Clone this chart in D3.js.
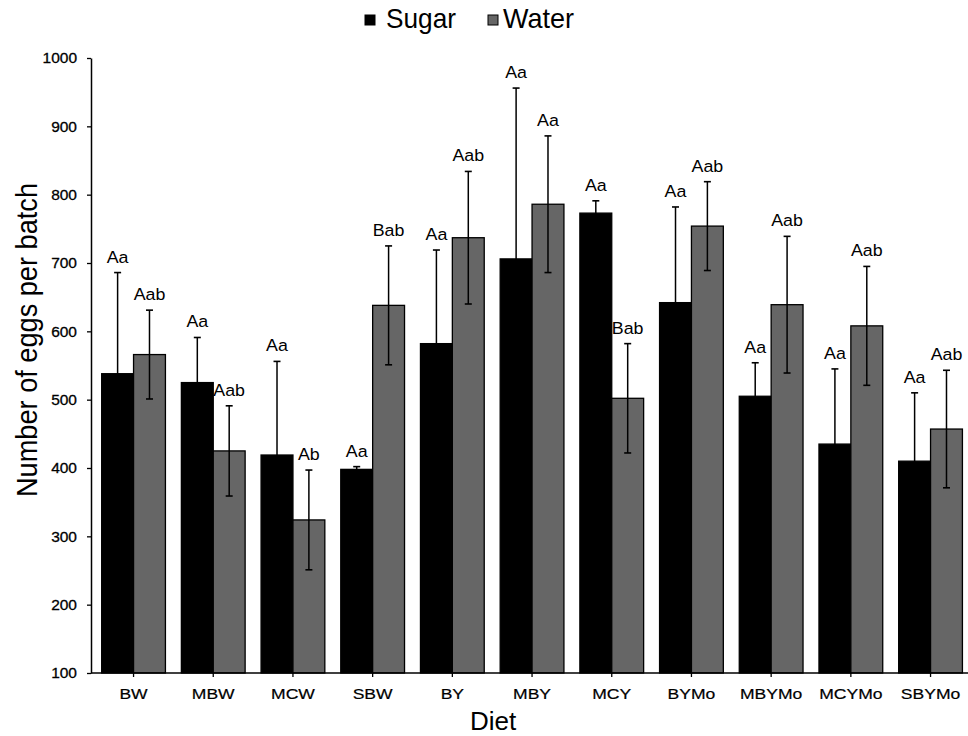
<!DOCTYPE html>
<html>
<head>
<meta charset="utf-8">
<script src="https://cdn.jsdelivr.net/npm/d3@7"></script>
<style>
  html, body { margin: 0; padding: 0; background: #fff; }
  svg { display: block; font-family: "Liberation Sans", Arial, Helvetica, sans-serif; }
</style>
</head>
<body>
<svg id="chart" width="968" height="736"></svg>
<script>
// ---- data ----
const diets = ["BW", "MBW", "MCW", "SBW", "BY", "MBY", "MCY", "BYMo", "MBYMo", "MCYMo", "SBYMo"];
const seriesNames = ["Sugar", "Water"];
const sugarMeans = [538, 525, 419, 398, 582, 706, 773, 642, 505, 435, 410];
const sugarErr   = [148, 66, 137, 4, 137, 250, 18, 140, 49, 110, 100];
const waterMeans = [566, 425, 324, 638, 737, 786, 502, 754, 639, 608, 457];
const waterErr   = [65, 66, 73, 87, 97, 100, 80, 65, 100, 87, 86];
const sugarLetters = ["Aa", "Aa", "Aa", "Aa", "Aa", "Aa", "Aa", "Aa", "Aa", "Aa", "Aa"];
const waterLetters = ["Aab", "Aab", "Ab", "Bab", "Aab", "Aa", "Bab", "Aab", "Aab", "Aab", "Aab"];
const yTicks = [100, 200, 300, 400, 500, 600, 700, 800, 900, 1000];

// ---- layout ----
const svg = d3.select("#chart");
const axisX = 91, yTop = 58, yBottom = 673;
const colors = { Sugar: "#000000", Water: "#666666" };

const y = d3.scaleLinear().domain([100, 1000]).range([yBottom, yTop]);
const x0 = d3.scaleBand().domain(diets).range([93.7, 970.4]).paddingInner(0.2).paddingOuter(0.1);
const x1 = d3.scaleBand().domain(seriesNames).range([0, x0.bandwidth()]);

const rows = diets.map((d, i) => ({
  diet: d,
  vals: [
    { s: "Sugar", v: sugarMeans[i], e: sugarErr[i], l: sugarLetters[i] },
    { s: "Water", v: waterMeans[i], e: waterErr[i], l: waterLetters[i] }
  ]
}));

const g = svg.append("g");
const groups = g.selectAll("g.grp").data(rows).join("g")
  .attr("class", "grp")
  .attr("transform", d => `translate(${x0(d.diet)},0)`);

// bars
groups.selectAll("rect").data(d => d.vals).join("rect")
  .attr("x", d => x1(d.s))
  .attr("width", x1.bandwidth())
  .attr("y", d => y(d.v))
  .attr("height", d => y(100) - y(d.v))
  .attr("fill", d => colors[d.s])
  .attr("stroke", "#000")
  .attr("stroke-width", 1.3);

// error bars
const capW = 7;
const eb = groups.selectAll("g.eb").data(d => d.vals).join("g").attr("class", "eb");
eb.append("line")
  .attr("x1", d => x1(d.s) + x1.bandwidth() / 2)
  .attr("x2", d => x1(d.s) + x1.bandwidth() / 2)
  .attr("y1", d => y(d.v - d.e))
  .attr("y2", d => y(d.v + d.e))
  .attr("stroke", "#000").attr("stroke-width", 1.5);
eb.append("line")
  .attr("x1", d => x1(d.s) + x1.bandwidth() / 2 - capW / 2)
  .attr("x2", d => x1(d.s) + x1.bandwidth() / 2 + capW / 2)
  .attr("y1", d => y(d.v + d.e))
  .attr("y2", d => y(d.v + d.e))
  .attr("stroke", "#000").attr("stroke-width", 1.6);
eb.append("line")
  .attr("x1", d => x1(d.s) + x1.bandwidth() / 2 - capW / 2)
  .attr("x2", d => x1(d.s) + x1.bandwidth() / 2 + capW / 2)
  .attr("y1", d => y(d.v - d.e))
  .attr("y2", d => y(d.v - d.e))
  .attr("stroke", "#000").attr("stroke-width", 1.6);

// letters
groups.selectAll("text.lbl").data(d => d.vals).join("text")
  .attr("class", "lbl")
  .attr("text-anchor", "middle")
  .attr("transform", d => `translate(${x1(d.s) + x1.bandwidth() / 2},${y(d.v + d.e) - 10}) scale(1.08,1)`)
  .attr("font-size", 16.5)
  .attr("fill", "#000")
  .text(d => d.l);

// y axis
const yAxis = d3.axisLeft(y).tickValues(yTicks).tickFormat(d3.format("d"))
  .tickSize(4).tickPadding(10).tickSizeOuter(0);
const gy = svg.append("g").attr("transform", `translate(${axisX},0)`).call(yAxis);
gy.select(".domain").attr("stroke", "#000").attr("stroke-width", 1.5);
gy.selectAll(".tick line").attr("stroke", "#000").attr("stroke-width", 1.3);
gy.selectAll(".tick text").attr("font-size", 15.5).attr("fill", "#000")
  .attr("font-family", "'Liberation Sans', Arial, sans-serif").attr("stroke", "#000").attr("stroke-width", 0.3);

// x axis
const xAxis = d3.axisBottom(x0).tickSize(4).tickPadding(11).tickSizeOuter(0);
const gx = svg.append("g").attr("transform", `translate(0,${yBottom})`).call(xAxis);
gx.select(".domain").attr("d", `M${axisX},0H968`).attr("stroke", "#000").attr("stroke-width", 1.5);
gx.selectAll(".tick line").attr("stroke", "#000").attr("stroke-width", 1.3);
gx.selectAll(".tick text").attr("font-size", 15).attr("fill", "#000")
  .attr("transform", "scale(1.17,1)")
  .attr("font-family", "'Liberation Sans', Arial, sans-serif").attr("stroke", "#000").attr("stroke-width", 0.2);

// axis titles
svg.append("text")
  .attr("transform", "translate(37,340) rotate(-90)")
  .attr("text-anchor", "middle")
  .attr("font-size", 29)
  .attr("textLength", 314)
  .attr("lengthAdjust", "spacingAndGlyphs")
  .attr("fill", "#000")
  .text("Number of eggs per batch");

svg.append("text")
  .attr("x", 493).attr("y", 730)
  .attr("text-anchor", "middle")
  .attr("font-size", 26)
  .attr("fill", "#000")
  .text("Diet");

// legend
const legendItems = [
  { s: "Sugar", sx: 365, tx: 386, tl: 70 },
  { s: "Water", sx: 488, tx: 503, tl: 71 }
];
const lg = svg.append("g").selectAll("g").data(legendItems).join("g");
lg.append("rect")
  .attr("x", d => d.sx).attr("y", 15).attr("width", 10).attr("height", 10)
  .attr("fill", d => colors[d.s]).attr("stroke", "#000").attr("stroke-width", 1);
lg.append("text")
  .attr("x", d => d.tx).attr("y", 28)
  .attr("font-size", 28)
  .attr("textLength", d => d.tl)
  .attr("lengthAdjust", "spacingAndGlyphs")
  .attr("fill", "#000")
  .text(d => d.s);
</script>
</body>
</html>
